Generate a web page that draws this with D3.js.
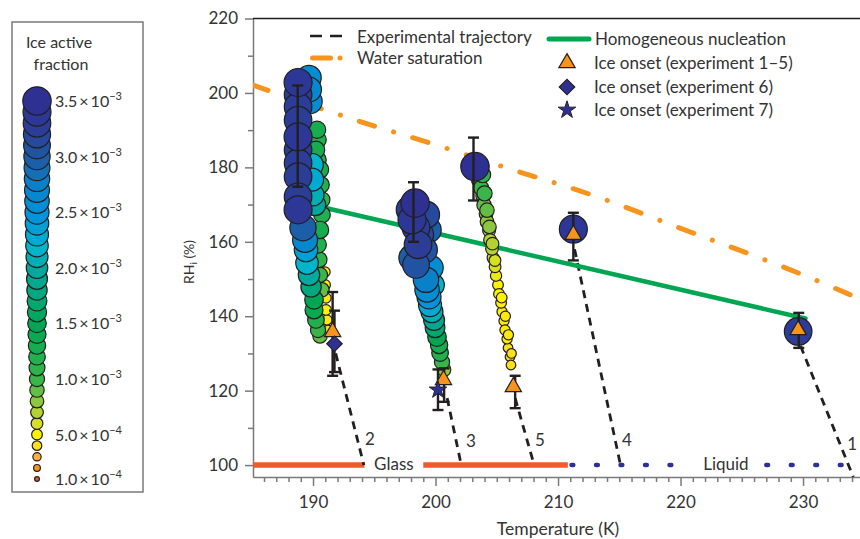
<!DOCTYPE html>
<html>
<head>
<meta charset="utf-8">
<script src="https://cdn.jsdelivr.net/npm/d3@7"></script>
<style>
  body { margin: 0; background: #fff; }
  svg text { font-family: Lato, "Liberation Sans", sans-serif; fill: #333; }
</style>
</head>
<body>
<script>
// ---- data (T in K, RH_i in %, ice active fraction in units of 1e-3) ----
const exp2Points = [
    [189.67, 204.1, 2.6], [189.67, 200.9, 2.7], [189.75, 197.7, 2.6],
    [190.33, 190.1, 1.3], [190.40, 187.4, 1.2], [190.25, 184.7, 1.3], [190.40, 182.0, 1.2],
    [189.92, 180.7, 2.2], [189.92, 176.7, 2.3], [190.00, 172.6, 2.1], [190.16, 169.9, 2.0],
    [190.57, 179.4, 1.3], [190.65, 175.3, 1.2], [190.73, 171.3, 1.1], [190.73, 167.3, 1.2], [190.57, 163.2, 1.3],
    [188.78, 202.8, 3.4], [188.78, 199.5, 3.3], [188.78, 196.3, 3.3], [188.78, 192.7, 3.3], [188.78, 188.2, 3.4],
    [188.78, 184.7, 3.3], [188.78, 181.2, 3.3], [188.78, 177.5, 3.3], [188.78, 172.1, 3.3], [188.78, 168.6, 3.4],
    [190.41, 159.2, 1.2], [190.49, 155.2, 1.1], [190.57, 151.1, 1.0], [190.73, 147.1, 0.9],
    [189.18, 163.8, 3.0], [189.35, 160.5, 2.7], [189.43, 157.8, 2.4], [189.51, 154.3, 2.2], [189.67, 151.1, 2.0],
    [189.84, 147.9, 1.8], [190.08, 144.4, 1.5], [190.08, 141.7, 1.4], [190.24, 139.0, 1.2], [190.41, 136.3, 1.0],
    [190.57, 134.7, 0.9],
    [190.98, 151.9, 0.45], [190.98, 148.4, 0.5], [191.06, 144.9, 0.45], [191.06, 141.7, 0.5], [191.14, 139.0, 0.45],
    [191.22, 136.3, 0.4]
];
const exp3Points = [
    [198.33, 170.4, 3.5], [197.92, 168.6, 3.3], [198.08, 165.9, 3.4], [198.41, 163.8, 3.3], [198.73, 161.9, 3.2],
    [198.57, 159.2, 3.3], [199.06, 157.8, 3.1], [199.22, 167.3, 3.2], [199.39, 163.2, 3.0],
    [198.41, 153.8, 3.1], [198.08, 155.7, 3.0], [199.63, 153.0, 2.6], [199.80, 148.4, 2.2],
    [199.22, 149.8, 2.8], [199.31, 147.1, 2.6], [199.47, 145.2, 2.5], [199.55, 143.0, 2.3], [199.71, 141.2, 2.1],
    [199.88, 139.0, 1.9], [199.96, 136.9, 1.7], [200.12, 134.4, 1.5], [200.29, 132.3, 1.3], [200.37, 130.1, 1.2],
    [200.53, 127.7, 1.0], [200.69, 125.6, 0.8]
];
const exp5Points = [
    [203.22, 180.2, 3.5],
    [203.55, 176.7, 1.0], [203.71, 174.5, 1.0], [203.88, 172.4, 0.9], [203.96, 169.9, 0.9], [204.12, 167.5, 0.8],
    [204.20, 165.4, 0.8], [204.37, 163.0, 0.7], [204.45, 160.5, 0.7], [204.61, 158.1, 0.7], [204.69, 155.7, 0.6],
    [204.86, 153.3, 0.6], [204.94, 150.9, 0.55], [205.10, 148.4, 0.5], [205.18, 146.0, 0.5], [205.35, 143.6, 0.5],
    [205.43, 141.2, 0.45], [205.59, 138.7, 0.45], [205.67, 136.3, 0.45], [205.84, 133.9, 0.45], [205.92, 131.5, 0.4],
    [206.08, 129.1, 0.4], [206.16, 126.9, 0.4],
    [203.85, 178.0, 1.1], [204.00, 173.0, 1.0], [204.20, 168.5, 0.9], [204.40, 164.0, 0.8], [204.65, 159.5, 0.7],
    [204.85, 155.0, 0.6], [205.40, 145.0, 0.5], [205.70, 140.0, 0.45], [205.95, 135.0, 0.45], [206.20, 130.0, 0.4]
];
const onsetCircles = [[211.25, 163.4, 3.4], [229.6, 135.9, 3.3]];

const triangleOnsets = [[191.6, 135.8], [200.65, 122.9], [206.35, 121.0], [211.25, 161.9], [229.6, 136.3]];
const diamondOnsets = [[191.75, 132.6]];
const starOnsets = [[200.2, 120.2]];

// [T, low, high]
const errorBars = [
    [188.75, 174.8, 202.0], [191.6, 124.0, 146.5], [191.75, 125.0, 141.5], [198.2, 160.0, 176.0],
    [200.2, 114.8, 125.7], [200.7, 117.0, 126.0], [203.1, 171.1, 188.0], [206.5, 115.3, 124.0],
    [211.25, 155.0, 167.8], [229.65, 131.5, 140.9]
];

const waterSaturation = [
    [185.1, 202.1], [190.6, 195.8], [195.2, 190.8], [199.8, 186.4], [205.3, 180.3], [209.6, 176.0],
    [213.7, 171.7], [219.7, 163.9], [224.9, 157.7], [229.8, 151.5], [234.4, 145.0]
];
const homogeneousNucleation = [[188.9, 170.7], [230.2, 139.4]];

const trajectories = [
    [[191.85, 130], [194.15, 100]],
    [[200.95, 118], [202.1, 100]],
    [[206.5, 118], [208.05, 100]],
    [[211.35, 158], [215.1, 100]],
    [[229.8, 132], [234.1, 96.8]]
];
const trajectoryNames = ["2", "3", "5", "4", "1"];
const trajectoryLabelPos = [[194.25, 105.4], [202.49, 104.9], [208.12, 105.1], [215.22, 105.1], [233.6, 104.1]];

const glassSegments = [[185.1, 194.2], [199.0, 210.8]];
const liquidSegments = [[211.1, 221.0], [227.0, 235.0]];

const xMajor = [190, 200, 210, 220, 230];
const yMajor = [100, 120, 140, 160, 180, 200, 220];
const yMinor = [110, 130, 150, 170, 190, 210];

const legendFractions = [3.5, 3.4, 3.3, 3.2, 3.1, 3.0, 2.9, 2.8, 2.7, 2.6, 2.5, 2.4, 2.3, 2.2, 2.1, 2.0, 1.9, 1.8,
    1.7, 1.6, 1.5, 1.4, 1.3, 1.2, 1.1, 1.0, 0.9, 0.8, 0.7, 0.6, 0.5, 0.4, 0.3, 0.2, 0.1];
const legendTickValues = [3.5, 3.0, 2.5, 2.0, 1.5, 1.0, 0.5, 0.1];
const legendTickMantissa = ["3.5", "3.0", "2.5", "2.0", "1.5", "1.0", "5.0", "1.0"];
const legendTickExponent = ["−3", "−3", "−3", "−3", "−3", "−3", "−4", "−4"];

// ---- setup ----
const W = 860, H = 539;
const svg = d3.select("body").append("svg").attr("width", W).attr("height", H);

const x = d3.scaleLinear().domain([185.1, 235]).range([253, 864.3]);
const y = d3.scaleLinear().domain([96.8, 220]).range([477, 18.5]);
const r = d3.scaleSqrt().domain([0, 3.5]).range([0, 14.2]);
const color = d3.scaleLinear()
    .domain([0.1, 0.2, 0.3, 0.4, 0.5, 0.6, 0.8, 1.0, 1.5, 2.0, 2.2, 2.5, 2.8, 3.0, 3.3, 3.5])
    .range(["#f15a24", "#f7941d", "#fbb040", "#fde01a", "#fff200", "#d7df23", "#8dc63f", "#39b54a",
        "#00a651", "#00a99d", "#00b4cc", "#0095da", "#0a80c8", "#1c5ea8", "#2b3d97", "#2e3192"]);

const axisGrey = "#7a7a7a";
const ink = "#231f20";

svg.append("clipPath").attr("id", "plotClip")
    .append("rect").attr("x", 253).attr("y", 18).attr("width", 620).attr("height", 460);

// ---- axes ----
const gx = svg.append("g").attr("transform", `translate(0,${y(96.8)})`)
    .call(d3.axisBottom(x).tickValues(xMajor).tickSize(9).tickSizeOuter(0).tickPadding(10));
const gxMinor = svg.append("g").attr("transform", `translate(0,${y(96.8)})`)
    .call(d3.axisBottom(x).tickValues(d3.range(186, 235).filter(d => d % 10 !== 0)).tickSize(5).tickFormat(""));
gxMinor.select(".domain").remove();

const gy = svg.append("g").attr("transform", `translate(${x(185.1)},0)`)
    .call(d3.axisLeft(y).tickValues(yMajor).tickSize(8).tickSizeOuter(0).tickPadding(7));
const gyMinor = svg.append("g").attr("transform", `translate(${x(185.1)},0)`)
    .call(d3.axisLeft(y).tickValues(yMinor).tickSize(5).tickFormat(""));
gyMinor.select(".domain").remove();

[gx, gxMinor, gy, gyMinor].forEach(g => {
    g.selectAll("path, line").attr("stroke", axisGrey).attr("stroke-width", 1.5);
    g.selectAll("text").attr("font-size", 17).attr("fill", "#333")
        .attr("font-family", "Lato, 'Liberation Sans', sans-serif");
});

svg.append("line").attr("x1", 253).attr("x2", W).attr("y1", y(220)).attr("y2", y(220))
    .attr("stroke", ink).attr("stroke-width", 1.3);

svg.append("text").attr("x", 558).attr("y", 535).attr("text-anchor", "middle")
    .attr("font-size", 17.5).text("Temperature (K)");

const yl = svg.append("text").attr("transform", "translate(194,262) rotate(-90)")
    .attr("text-anchor", "middle").attr("font-size", 14);
yl.append("tspan").text("RH");
yl.append("tspan").attr("font-size", 10).attr("dy", 3).text("i");
yl.append("tspan").attr("dy", -3).text(" (%)");

const plot = svg.append("g").attr("clip-path", "url(#plotClip)");

// ---- phase lines at 100% ----
glassSegments.forEach(s => {
    plot.append("line").attr("x1", x(s[0])).attr("x2", x(s[1])).attr("y1", y(100)).attr("y2", y(100))
        .attr("stroke", "#f15a29").attr("stroke-width", 5.5);
});
const dotGap = x(213) - x(211);
liquidSegments.forEach(s => {
    plot.append("line").attr("x1", x(s[0])).attr("x2", x(s[1])).attr("y1", y(100)).attr("y2", y(100))
        .attr("stroke", "#2e3192").attr("stroke-width", 4.5).attr("stroke-linecap", "round")
        .attr("stroke-dasharray", `1.8,${dotGap - 1.8}`);
});
svg.append("text").attr("x", x(196.6)).attr("y", y(98.8)).attr("text-anchor", "middle")
    .attr("font-size", 17).text("Glass");
svg.append("text").attr("x", x(223.7)).attr("y", y(98.7)).attr("text-anchor", "middle")
    .attr("font-size", 17).text("Liquid");

// ---- scatter circles ----
const allPoints = exp2Points.concat(exp3Points, exp5Points, onsetCircles)
    .slice().sort((a, b) => a[2] - b[2]);
svg.append("g").selectAll("circle").data(allPoints).join("circle")
    .attr("cx", d => x(d[0])).attr("cy", d => y(d[1])).attr("r", d => r(d[2]))
    .attr("fill", d => color(d[2])).attr("stroke", ink).attr("stroke-width", 1.2);

// ---- lines ----
const line = d3.line().x(d => x(d[0])).y(d => y(d[1]));
trajectories.forEach(t => {
    plot.append("path").attr("d", line(t)).attr("fill", "none")
        .attr("stroke", ink).attr("stroke-width", 2.8).attr("stroke-dasharray", "8,6");
});
trajectoryNames.forEach((n, i) => {
    svg.append("text").attr("x", x(trajectoryLabelPos[i][0])).attr("y", y(trajectoryLabelPos[i][1]))
        .attr("font-size", 17).text(n);
});

plot.append("path").attr("d", line.curve(d3.curveBasis)(waterSaturation)).attr("fill", "none")
    .attr("stroke", "#f7941d").attr("stroke-width", 5).attr("stroke-linecap", "round")
    .attr("stroke-dasharray", "16,20,0.1,20");
line.curve(d3.curveLinear);

plot.append("path").attr("d", line(homogeneousNucleation)).attr("fill", "none")
    .attr("stroke", "#00a651").attr("stroke-width", 4.5).attr("stroke-linecap", "round");

// ---- error bars ----
const eb = svg.append("g").attr("stroke", ink).attr("stroke-width", 2.4);
errorBars.forEach(e => {
    const cx = x(e[0]);
    eb.append("line").attr("x1", cx).attr("x2", cx).attr("y1", y(e[1])).attr("y2", y(e[2]));
    [e[1], e[2]].forEach(v => {
        eb.append("line").attr("x1", cx - 5.5).attr("x2", cx + 5.5).attr("y1", y(v)).attr("y2", y(v));
    });
});

// ---- onset markers ----
const triPath = d3.symbol(d3.symbolTriangle, 115)();
const diaPath = d3.symbol(d3.symbolSquare, 120)();
const starPath = d3.symbol(d3.symbolStar, 95)();
svg.append("g").selectAll("path").data(triangleOnsets).join("path")
    .attr("d", triPath).attr("transform", d => `translate(${x(d[0])},${y(d[1])})`)
    .attr("fill", "#f7941d").attr("stroke", ink).attr("stroke-width", 1.2);
svg.append("g").selectAll("path").data(diamondOnsets).join("path")
    .attr("d", diaPath).attr("transform", d => `translate(${x(d[0])},${y(d[1])}) rotate(45)`)
    .attr("fill", "#2e3192").attr("stroke", ink).attr("stroke-width", 1.2);
svg.append("g").selectAll("path").data(starOnsets).join("path")
    .attr("d", starPath).attr("transform", d => `translate(${x(d[0])},${y(d[1])})`)
    .attr("fill", "#2e3192").attr("stroke", ink).attr("stroke-width", 1);

// ---- top legend ----
const lg = svg.append("g");
lg.append("line").attr("x1", 310).attr("x2", 342).attr("y1", 36).attr("y2", 36)
    .attr("stroke", ink).attr("stroke-width", 2.6).attr("stroke-dasharray", "12,8");
lg.append("text").attr("x", 357).attr("y", 43).attr("font-size", 17).text("Experimental trajectory");
lg.append("line").attr("x1", 312.5).attr("x2", 341).attr("y1", 58).attr("y2", 58)
    .attr("stroke", "#f7941d").attr("stroke-width", 5).attr("stroke-linecap", "round")
    .attr("stroke-dasharray", "18,9.5,0.1,30");
lg.append("text").attr("x", 357).attr("y", 64).attr("font-size", 17).text("Water saturation");
lg.append("line").attr("x1", 549).attr("x2", 589).attr("y1", 39).attr("y2", 39)
    .attr("stroke", "#00a651").attr("stroke-width", 5).attr("stroke-linecap", "round");
lg.append("text").attr("x", 595).attr("y", 45).attr("font-size", 17).text("Homogeneous nucleation");
lg.append("path").attr("d", triPath).attr("transform", "translate(567,63)")
    .attr("fill", "#f7941d").attr("stroke", ink).attr("stroke-width", 1.2);
lg.append("text").attr("x", 594).attr("y", 69).attr("font-size", 17).text("Ice onset (experiment 1–5)");
lg.append("path").attr("d", diaPath).attr("transform", "translate(567,87) rotate(45)")
    .attr("fill", "#2e3192").attr("stroke", ink).attr("stroke-width", 1.2);
lg.append("text").attr("x", 594).attr("y", 93).attr("font-size", 17).text("Ice onset (experiment 6)");
lg.append("path").attr("d", starPath).attr("transform", "translate(567,110)")
    .attr("fill", "#2e3192").attr("stroke", ink).attr("stroke-width", 1);
lg.append("text").attr("x", 594).attr("y", 116).attr("font-size", 17).text("Ice onset (experiment 7)");

// ---- size/colour legend ----
const ly = d3.scaleLinear().domain([3.5, 0.1]).range([101, 479]);
const leg = svg.append("g");
leg.append("rect").attr("x", 12).attr("y", 22).attr("width", 131).attr("height", 470)
    .attr("fill", "none").attr("stroke", axisGrey).attr("stroke-width", 1.5);
leg.append("text").attr("x", 59).attr("y", 48).attr("text-anchor", "middle").attr("font-size", 16).text("Ice active");
leg.append("text").attr("x", 61).attr("y", 70).attr("text-anchor", "middle").attr("font-size", 16).text("fraction");
leg.selectAll("circle").data(legendFractions.slice().reverse()).join("circle")
    .attr("cx", 37).attr("cy", d => ly(d)).attr("r", d => r(d))
    .attr("fill", d => color(d)).attr("stroke", ink).attr("stroke-width", 1.2);
legendTickValues.forEach((v, i) => {
    const t = leg.append("text").attr("x", 55).attr("y", ly(v) + 6).attr("font-size", 16);
    t.append("tspan").text(legendTickMantissa[i] + "\u2009×\u200910");
    t.append("tspan").attr("font-size", 11).attr("dy", -7).text(legendTickExponent[i]);
});
</script>
</body>
</html>
